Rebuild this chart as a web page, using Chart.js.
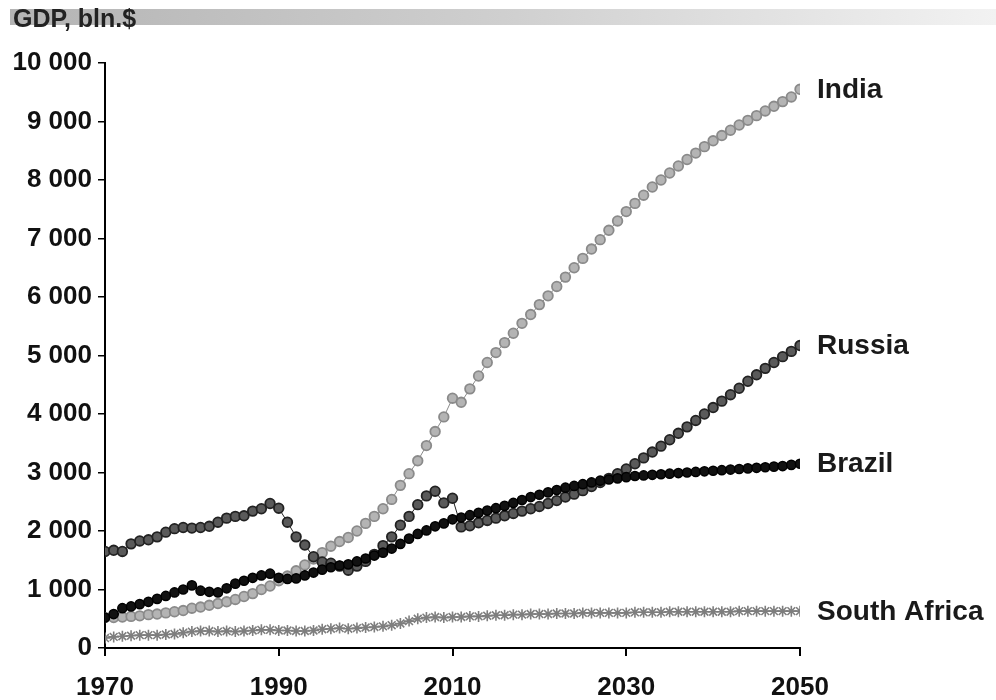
<!DOCTYPE html>
<html>
<head>
<meta charset="utf-8">
<script src="https://cdn.jsdelivr.net/npm/chart.js@4.4.1/dist/chart.umd.min.js"></script>
<style>
  html, body { margin: 0; padding: 0; background: #fff; }
  #wrap { width: 996px; height: 700px; position: relative; }
</style>
</head>
<body>
<div id="wrap"><canvas id="gdpChart" width="996" height="700"></canvas></div>
<script>
  // years on the x axis
  const years = [1970,1971,1972,1973,1974,1975,1976,1977,1978,1979,
    1980,1981,1982,1983,1984,1985,1986,1987,1988,1989,
    1990,1991,1992,1993,1994,1995,1996,1997,1998,1999,
    2000,2001,2002,2003,2004,2005,2006,2007,2008,2009,
    2010,2011,2012,2013,2014,2015,2016,2017,2018,2019,
    2020,2021,2022,2023,2024,2025,2026,2027,2028,2029,
    2030,2031,2032,2033,2034,2035,2036,2037,2038,2039,
    2040,2041,2042,2043,2044,2045,2046,2047,2048,2049,2050];
  const countries = ["India", "Russia", "Brazil", "South Africa"];
  const yTicks = [0,1000,2000,3000,4000,5000,6000,7000,8000,9000,10000];
  const xTicks = [1970,1990,2010,2030,2050];

  const india = [520,520,530,540,550,570,580,600,620,640,
    680,700,730,760,790,830,880,930,1000,1060,
    1150,1230,1320,1420,1520,1630,1740,1820,1890,2000,
    2130,2250,2380,2540,2780,2980,3200,3460,3700,3950,
    4270,4200,4430,4650,4880,5050,5220,5380,5550,5700,
    5870,6020,6180,6340,6500,6660,6820,6980,7140,7300,
    7460,7600,7740,7880,8000,8120,8240,8350,8460,8570,
    8670,8760,8850,8940,9020,9100,9180,9260,9340,9420,9550];
  const russia = [1650,1670,1650,1780,1830,1850,1900,1980,2040,2060,
    2050,2060,2080,2150,2220,2250,2260,2340,2380,2470,
    2390,2150,1900,1760,1560,1470,1450,1400,1330,1400,
    1480,1600,1750,1900,2100,2250,2450,2600,2680,2480,
    2560,2070,2090,2140,2180,2220,2260,2300,2340,2380,
    2420,2470,2520,2580,2630,2690,2760,2830,2900,2980,
    3060,3150,3250,3350,3450,3560,3670,3780,3890,4000,
    4110,4220,4330,4440,4560,4670,4780,4880,4980,5070,5170];
  const brazil = [520,580,680,710,750,790,840,890,950,1000,
    1070,980,960,950,1020,1100,1150,1200,1240,1270,
    1200,1180,1190,1240,1290,1340,1380,1410,1430,1480,
    1530,1580,1630,1700,1780,1870,1950,2010,2080,2130,
    2200,2230,2270,2310,2350,2390,2430,2480,2530,2580,
    2620,2660,2700,2740,2770,2800,2830,2860,2880,2900,
    2920,2940,2950,2960,2970,2980,2990,3000,3010,3020,
    3030,3040,3050,3060,3070,3080,3090,3100,3110,3130,3150];
  const southAfrica = [170,190,200,210,220,220,220,230,240,260,
    280,290,290,280,290,280,290,300,310,310,
    300,300,290,290,300,320,330,340,330,340,
    350,360,370,390,420,460,500,520,530,520,
    530,530,540,540,550,560,560,570,570,580,
    580,580,590,590,590,600,600,600,600,600,
    600,610,610,610,610,620,620,620,620,620,
    620,620,620,630,630,630,630,630,630,630,630];

  function pts(vals) {
    return years.map((y, i) => ({ x: y, y: vals[i] }));
  }

  const labelFont = "bold 28px 'Liberation Sans', Arial, sans-serif";
  const tickFont = { family: "'Liberation Sans', Arial, sans-serif", size: 26, weight: "bold" };

  // header bar + end labels
  const decorations = {
    id: "decorations",
    beforeDraw(chart) {
      const ctx = chart.ctx;
      ctx.save();
      const g = ctx.createLinearGradient(10, 0, 996, 0);
      g.addColorStop(0, "#b4b4b4");
      g.addColorStop(0.5, "#cfcfcf");
      g.addColorStop(1, "#f2f2f2");
      ctx.fillStyle = g;
      ctx.fillRect(10, 9, 986, 16);
      ctx.fillStyle = "#222";
      ctx.font = "bold 25px 'Liberation Sans', Arial, sans-serif";
      ctx.textBaseline = "alphabetic";
      ctx.fillText("GDP, bln.$", 13, 27);
      ctx.restore();
    },
    afterDatasetsDraw(chart) {
      const ctx = chart.ctx;
      const xs = chart.scales.x, ys = chart.scales.y;
      ctx.save();
      ctx.font = labelFont;
      ctx.fillStyle = "#1a1a1a";
      ctx.textBaseline = "middle";
      chart.data.datasets.forEach(ds => {
        const last = ds.data[ds.data.length - 1];
        ctx.fillText(ds.label, xs.getPixelForValue(last.x) + 17, ys.getPixelForValue(last.y) + 1);
      });
      ctx.restore();
    }
  };

  new Chart(document.getElementById("gdpChart").getContext("2d"), {
    type: "line",
    data: {
      datasets: [
        { label: countries[3], data: pts(southAfrica), borderColor: "#7e7e7e", backgroundColor: "#7e7e7e",
          borderWidth: 1, pointStyle: "star", pointRadius: 5.5, pointBorderWidth: 1.6 },
        { label: countries[2], data: pts(brazil), borderColor: "#000", backgroundColor: "#111",
          borderWidth: 1, pointStyle: "circle", pointRadius: 4.6, pointBorderWidth: 1.5 },
        { label: countries[1], data: pts(russia), borderColor: "#222", backgroundColor: "#5a5a5a",
          borderWidth: 1, pointStyle: "circle", pointRadius: 4.8, pointBorderWidth: 1.8 },
        { label: countries[0], data: pts(india), borderColor: "#8a8a8a", backgroundColor: "#b4b4b4",
          borderWidth: 1, pointStyle: "circle", pointRadius: 4.8, pointBorderWidth: 1.8 }
      ]
    },
    options: {
      responsive: false,
      animation: false,
      layout: { padding: { left: 0, top: 63, right: 196, bottom: 0 } },
      plugins: { legend: { display: false }, tooltip: { enabled: false } },
      scales: {
        x: {
          type: "linear", min: 1970, max: 2050,
          afterBuildTicks(scale) { scale.ticks = xTicks.map(v => ({ value: v })); },
          afterFit(scale) { scale.height = 52; },
          border: { color: "#000", width: 2 },
          grid: { drawOnChartArea: false, tickLength: 8, color: "#000", lineWidth: 2 },
          ticks: { font: tickFont, color: "#111", padding: 16, maxRotation: 0, callback: v => String(v) }
        },
        y: {
          min: 0, max: 10000,
          afterBuildTicks(scale) { scale.ticks = yTicks.map(v => ({ value: v })); },
          afterFit(scale) { scale.width = 105; },
          border: { color: "#000", width: 2 },
          grid: { drawOnChartArea: false, tickLength: 7, color: "#000", lineWidth: 1.5 },
          ticks: { font: tickFont, color: "#111", padding: 6,
            callback: v => v >= 1000 ? Math.floor(v / 1000) + " " + String(v % 1000).padStart(3, "0") : String(v) }
        }
      }
    },
    plugins: [decorations]
  });
</script>
</body>
</html>
